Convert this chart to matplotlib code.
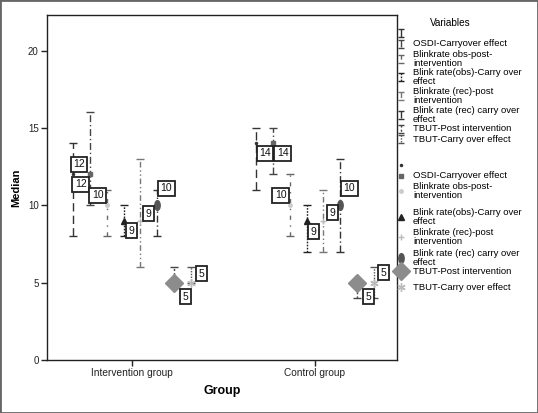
import numpy as np
import matplotlib
matplotlib.use("Agg")
import matplotlib.pyplot as plt
from matplotlib.lines import Line2D
from matplotlib.patches import Rectangle
from matplotlib.path import Path
from matplotlib.transforms import Affine2D

plt.rcParams['font.family'] = ['Liberation Sans', 'DejaVu Sans']

# Data
groups = ['Intervention group', 'Control group']
variables = ['', 'OSDI-Carryover effect', 'Blinkrate obs-post-\nintervention',
             'Blink rate(obs)-Carry over\neffect', 'Blinkrate (rec)-post\nintervention',
             'Blink rate (rec) carry over\neffect', 'TBUT-Post intervention',
             'TBUT-Carry over effect']

# rows: variables, columns: groups
medians = np.array([[12, 14], [12, 14], [10, 10], [9, 9], [9, 9], [10, 10], [5, 5], [5, 5]])
lows = np.array([[8, 11], [10, 12], [8, 8], [8, 7], [6, 7], [8, 7], [5, 4], [5, 4]])
highs = np.array([[14, 15], [16, 15], [11, 12], [10, 10], [13, 11], [11, 13], [6, 5], [6, 6]])

# Styles per variable
ellipse = Path.unit_circle().transformed(Affine2D().scale(0.55, 1.0))
line_styles = [(0, (6, 3)), (0, (5, 2, 1, 2)), (0, (3, 4, 1, 4)), (0, (1.2, 1)),
               (0, (4, 2, 1, 2, 1, 2)), (0, (5, 2, 1, 2)), (0, (1.5, 1.5)), (0, (1, 1))]
line_colors = ['#333333', '#444444', '#666666', '#222222', '#777777', '#333333', '#444444', '#555555']
markers = ['.', 's', 'o', '^', '+', ellipse, 'D', (6, 2, 0)]
marker_sizes = [3, 3, 2.5, 4, 4, 7, 9, 6]
marker_colors = ['#333333', '#666666', '#cccccc', '#222222', '#bbbbbb', '#555555', '#8c8c8c', '#bbbbbb']

# label offsets in pixels (dx, dy) per variable, per group
label_offsets = [
    [(6, 10), (-9, -10), (-9, 10), (8, -10), (8, 7), (9, 17), (11, -14), (11, 9)],
    [(9, -10), (10, -10), (-9, 10), (7, -11), (9, 8), (9, 17), (11, -14), (10, 10)],
]

W, H = 538, 413
fig = plt.figure(figsize=(W / 100, H / 100), dpi=100)
ax = fig.add_axes([47 / W, 1 - 360 / H, 350 / W, 345 / H])

step = 0.092
group_x = np.arange(len(groups))
for i in range(len(variables)):
    x = group_x + (i - 3.5) * step
    eb = ax.errorbar(x, medians[i], yerr=[medians[i] - lows[i], highs[i] - medians[i]],
                     fmt='none', ecolor=line_colors[i], elinewidth=1, capsize=3, capthick=1)
    eb[2][0].set_linestyle(line_styles[i])
    ax.plot(x, medians[i], ls='none', marker=markers[i], ms=marker_sizes[i],
            color=marker_colors[i], mec=marker_colors[i], mew=1, zorder=3)
    for g in range(len(groups)):
        dx, dy = label_offsets[g][i]
        ax.annotate(str(medians[i][g]), (x[g], medians[i][g]), xytext=(dx, dy),
                    textcoords='offset pixels', ha='center', va='center', fontsize=7.5,
                    color='#111111', zorder=4,
                    bbox=dict(boxstyle='square,pad=0.25', fc='white', ec='#222222', lw=1.3))

ax.set_xlim(-0.464, 1.448)
ax.set_ylim(0, 22.3)
ax.set_xticks(group_x)
ax.set_xticklabels(groups)
ax.set_yticks([0, 5, 10, 15, 20])
ax.tick_params(direction='out', length=4, width=1, labelsize=7, colors='#222222', pad=2)
ax.tick_params(axis='x', labelsize=7.3)
for s in ax.spines.values():
    s.set_linewidth(1)
    s.set_color('#222222')
ax.set_xlabel('Group', fontsize=9, fontweight='bold', labelpad=5)
ax.set_ylabel('Median', fontsize=8, fontweight='bold', labelpad=5)


# Legend drawn in pixel space
def px(x, y):
    return x / W, 1 - y / H


fig.text(*px(450, 23), 'Variables', fontsize=7.2, ha='center', va='center')
bar_rows = [33, 44, 55, 73, 92, 111, 129, 139]
mark_rows = [165, 176, 187, 213, 233, 254, 271, 287]
for i, lab in enumerate(variables):
    two = '\n' in lab
    shift = 4 if two else 0
    yc = bar_rows[i] + shift
    (x0, y0), (x1, y1) = px(401, yc - 4), px(401, yc + 4)
    fig.add_artist(Line2D([x0, x1], [y0, y1], ls=line_styles[i], color=line_colors[i], lw=1,
                          marker='_', ms=5, mew=1))
    fig.text(*px(413, yc), lab, fontsize=6.8, va='center', ha='left', linespacing=0.9)
    yc = mark_rows[i] + shift
    fig.add_artist(Line2D([px(401, yc)[0]], [px(401, yc)[1]], ls='none', marker=markers[i],
                          ms=marker_sizes[i], color=marker_colors[i], mec=marker_colors[i], mew=1))
    fig.text(*px(413, yc), lab, fontsize=6.8, va='center', ha='left', linespacing=0.9)

# outer frame
fig.patches.append(Rectangle((0, 0), 1, 1, transform=fig.transFigure, fill=False,
                             ec='#666666', lw=2))

fig.savefig('out.png', dpi=100)
